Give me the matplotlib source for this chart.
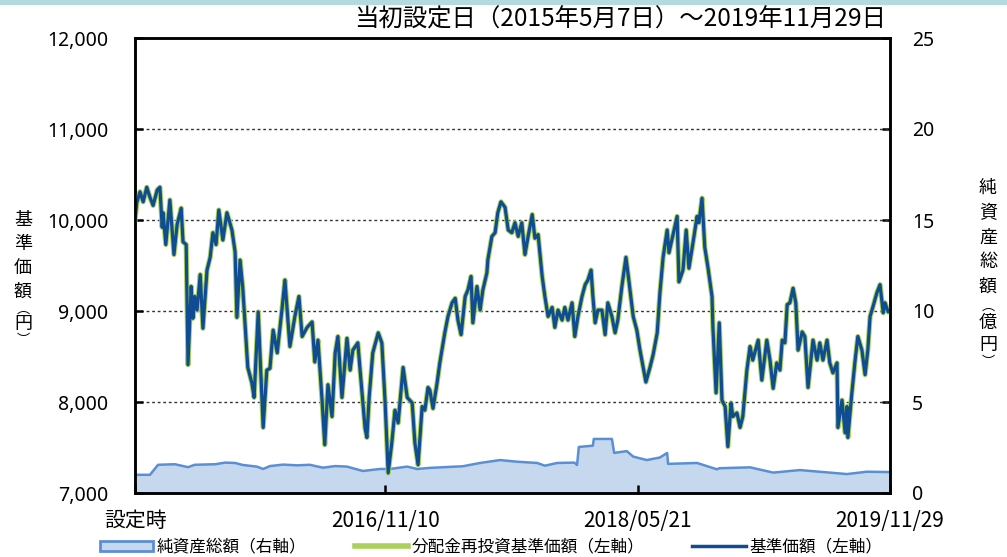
import matplotlib
matplotlib.use("Agg")
import matplotlib.pyplot as plt
from matplotlib.patches import Patch, Rectangle
from matplotlib.lines import Line2D
import pandas as pd

# ---------------- data ----------------
launch = "2015-05-07"
tick_dates = ["2015-05-07", "2016-11-10", "2018-05-21", "2019-11-29"]
tick_labels = ["設定時", "2016/11/10", "2018/05/21", "2019/11/29"]

# days since launch / base price (yen)
nav_days = [0, 4, 11, 18, 26, 33, 40, 49, 55, 60, 62, 68, 77, 86, 93, 102, 106, 113, 117, 124,
            128, 132, 137, 144, 150, 159, 166, 172, 179, 185, 194, 203, 214, 221, 225, 232, 238, 249,
            258, 263, 272, 283, 291, 298, 305, 314, 325, 331, 342, 353, 362, 369, 380, 391, 397, 404,
            413, 419, 426, 435, 442, 448, 457, 468, 475, 481, 492, 497, 508, 512, 517, 525, 537, 545,
            552, 559, 567, 574, 581, 592, 601, 612, 618, 625, 634, 640, 647, 651, 658, 667, 673, 684,
            691, 700, 707, 713, 720, 729, 735, 742, 746, 755, 762, 768, 777, 779, 788, 795, 801, 808,
            817, 824, 832, 839, 846, 854, 861, 868, 877, 883, 890, 899, 905, 912, 921, 927, 934, 943,
            949, 956, 965, 971, 978, 987, 994, 1000, 1007, 1011, 1016, 1022, 1031, 1038, 1044, 1053,
            1060, 1066, 1075, 1084, 1091, 1100, 1108, 1115, 1122, 1128, 1137, 1144, 1153, 1159, 1166,
            1175, 1179, 1188, 1197, 1201, 1210, 1217, 1223, 1232, 1241, 1245, 1252, 1258, 1265, 1274,
            1276, 1283, 1290, 1296, 1303, 1309, 1316, 1320, 1329, 1336, 1342, 1351, 1358, 1364, 1376,
            1384, 1395, 1402, 1409, 1417, 1424, 1429, 1435, 1440, 1446, 1453, 1459, 1464, 1473, 1479,
            1486, 1497, 1506, 1512, 1519, 1528, 1534, 1541, 1550, 1552, 1561, 1568, 1572, 1574, 1583,
            1590, 1596, 1605, 1612, 1618, 1623, 1629, 1638, 1645, 1652, 1656, 1663, 1667]
nav_values = [10000, 10190, 10310, 10200, 10360, 10250, 10160, 10330, 10360, 9920, 10080, 9730, 10220,
              9620, 9950, 10130, 9760, 9730, 8410, 9270, 8920, 9160, 9010, 9400, 8810, 9450, 9590, 9860,
              9730, 10110, 9780, 10080, 9890, 9650, 8930, 9560, 9250, 8380, 8210, 8050, 8990, 7720, 8350,
              8370, 8790, 8540, 9040, 9340, 8610, 8940, 9160, 8720, 8820, 8880, 8440, 8680, 8020, 7530,
              8190, 7840, 8540, 8720, 8050, 8700, 8350, 8570, 8650, 8350, 7710, 7610, 8050, 8540, 8760,
              8650, 8020, 7220, 7550, 7910, 7770, 8380, 8050, 7990, 7550, 7310, 7950, 7910, 8160, 8130,
              7930, 8210, 8430, 8760, 8940, 9090, 9140, 8900, 8740, 9160, 9230, 9380, 8870, 9270, 9010,
              9230, 9420, 9560, 9820, 9860, 10080, 10200, 10140, 9890, 9860, 9970, 9820, 9970, 9620,
              9820, 10060, 9800, 9840, 9380, 9160, 8940, 9040, 8820, 9010, 8900, 9040, 8900, 9090, 8720,
              8940, 9160, 9290, 9340, 9450, 9160, 8870, 9010, 9010, 8740, 9090, 8940, 8760, 8900, 9270,
              9590, 9310, 8940, 8790, 8570, 8380, 8220, 8380, 8520, 8760, 9200, 9590, 9890, 9640, 9840,
              10040, 9320, 9450, 9890, 9470, 9750, 10040, 9970, 10240, 9700, 9480, 9160, 8820, 8100,
              8870, 8020, 7950, 7510, 7990, 7840, 7880, 7720, 7840, 8350, 8610, 8460, 8680, 8240, 8680,
              8460, 8150, 8430, 8350, 8680, 8650, 9070, 9090, 9250, 9090, 8570, 8770, 8720, 8160, 8680,
              8460, 8650, 8460, 8680, 8430, 8320, 8430, 7720, 8020, 7660, 7950, 7610, 8110, 8460, 8720,
              8570, 8300, 8570, 8940, 9040, 9200, 9290, 8980, 9090, 8990, 9010]
# no distributions paid -> reinvested price equals base price
reinvested_values = list(nav_values)

# days since launch / net assets (100 million yen)
asset_days = [0, 33, 51, 88, 117, 132, 177, 199, 221, 238, 269, 283, 298, 327, 358, 386, 415, 442,
              468, 503, 541, 563, 601, 623, 651, 724, 762, 806, 843, 888, 905, 932, 970, 976, 980,
              1011, 1013, 1053, 1058, 1071, 1086, 1100, 1130, 1159, 1175, 1177, 1241, 1285, 1290,
              1358, 1409, 1468, 1572, 1616, 1667]
asset_values = [1.0, 1.0, 1.55, 1.58, 1.42, 1.55, 1.58, 1.67, 1.65, 1.54, 1.45, 1.32, 1.48, 1.56,
                1.52, 1.55, 1.39, 1.48, 1.45, 1.21, 1.32, 1.32, 1.45, 1.32, 1.38, 1.47, 1.65, 1.81,
                1.72, 1.65, 1.5, 1.65, 1.67, 1.54, 2.53, 2.6, 2.97, 2.97, 2.2, 2.25, 2.3, 2.0, 1.81,
                1.95, 2.2, 1.6, 1.65, 1.3, 1.36, 1.41, 1.12, 1.26, 1.04, 1.17, 1.15]

left_title = "基準価額︵円︶"
right_title = "純資産総額︵億円︶"
title = "当初設定日（2015年5月7日）～2019年11月29日"
legend_labels = ["純資産総額（右軸）", "分配金再投資基準価額（左軸）", "基準価額（左軸）"]

# ---------------- style ----------------
CJK = "Noto Sans CJK JP"
NUM = ["Noto Sans", CJK]
NARROW = ["Liberation Sans Narrow", CJK]
BLUE = "#0f4c91"
GREEN = "#a9d15b"
FILL = "#c5d8ee"
EDGE = "#5b8fd3"
BG = "#fdfce9"

t0 = pd.Timestamp(launch)
nav_x = t0 + pd.to_timedelta(nav_days, unit="D")
asset_x = t0 + pd.to_timedelta(asset_days, unit="D")
ticks = pd.to_datetime(tick_dates)

W, H = 1007, 557
fig = plt.figure(figsize=(W / 100, H / 100), dpi=100)
fig.patches.append(Rectangle((0, 1 - 4 / H), 1, 4 / H, transform=fig.transFigure,
                             color="#b4d9de", zorder=0))

ax = fig.add_axes([135 / W, 64 / H, 755 / W, 455 / H])
ax2 = ax.twinx()
ax.set_zorder(ax2.get_zorder() + 1)
ax.patch.set_visible(False)
ax2.set_facecolor(BG)

# net assets (right axis)
ax2.fill_between(asset_x, asset_values, 0, color=FILL, lw=0)
ax2.plot(asset_x, asset_values, color=EDGE, lw=1.8)
ax2.set_ylim(0, 25)
ax2.set_yticks([0, 5, 10, 15, 20, 25])

# price lines (left axis)
ax.plot(nav_x, reinvested_values, color=GREEN, lw=3.7, solid_joinstyle="round")
ax.plot(nav_x, nav_values, color=BLUE, lw=2.3, solid_joinstyle="round")
ax.set_ylim(7000, 12000)
yt = [7000, 8000, 9000, 10000, 11000, 12000]
ax.set_yticks(yt)
ax.set_yticklabels([f"{v:,}" for v in yt])
ax.set_xlim(ticks[0], ticks[-1])
ax.set_xticks(ticks)
ax.set_xticklabels(tick_labels)

for v in yt[1:-1]:
    ax.axhline(v, color="#333333", lw=1.0, ls=(0, (2, 2)), zorder=0.5)

for a in (ax, ax2):
    for s in a.spines.values():
        s.set_linewidth(1.8)
        s.set_color("black")

ax.tick_params(axis="y", direction="in", length=6, width=1.8, pad=19)
ax.tick_params(axis="x", direction="in", length=6, width=1.8, pad=12)
ax2.tick_params(axis="y", direction="in", length=6, width=1.8, pad=16)
for lab in ax.get_yticklabels() + ax2.get_yticklabels():
    lab.set_fontfamily(NUM)
    lab.set_fontsize(14)
for lab in ax.get_xticklabels():
    lab.set_fontfamily(NARROW)
    lab.set_fontsize(15)

# title
fig.text(886 / W, 1 - 20 / H, title, ha="right", va="center", fontsize=17.6, family=NARROW)

# vertical axis titles, one character per row (brackets are smaller)
left_y = [220, 244, 268, 292, 309, 324, 341]
right_y = [188, 213, 238, 262, 287, 306, 323, 345, 363]
for ch, y in zip(left_title, left_y):
    fs = 9.5 if ch in "︵︶" else 13
    fig.text(23 / W, 1 - y / H, ch, ha="center", va="center", fontsize=fs, family=CJK)
for ch, y in zip(right_title, right_y):
    fs = 9.5 if ch in "︵︶" else 13
    fig.text(988 / W, 1 - y / H, ch, ha="center", va="center", fontsize=fs, family=CJK)

# legend
handles = [Patch(facecolor=FILL, edgecolor=EDGE, lw=2),
           Line2D([], [], color=GREEN, lw=4),
           Line2D([], [], color=BLUE, lw=2.5)]
fig.legend(handles, legend_labels, loc="center left", bbox_to_anchor=(100 / W, 1 - 547 / H),
           ncol=3, frameon=False, handlelength=3.2, handleheight=0.55, handletextpad=0.2,
           columnspacing=2.9, borderpad=0, borderaxespad=0,
           prop={"family": CJK, "size": 12.0})

fig.savefig("out.png", dpi=100)
